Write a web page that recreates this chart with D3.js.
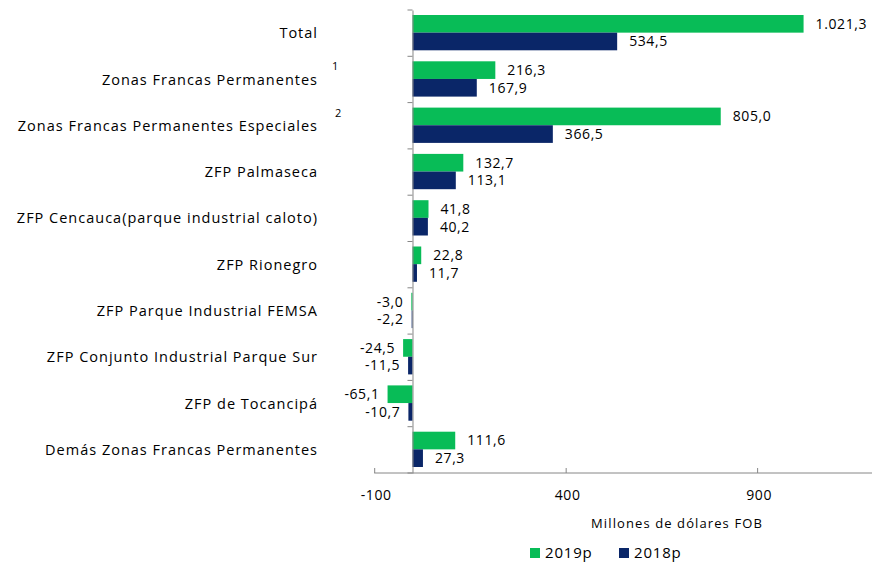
<!DOCTYPE html>
<html lang="en">
<head>
  <meta charset="UTF-8">
  <title>Zonas Francas Permanentes</title>
  <style>
    body { margin: 0; background: #fff; }
    svg text { font-family: "Open Sans", Arial, sans-serif; fill: #000; }
  </style>
</head>
<body>
  <svg id="chart" width="875" height="567"></svg>
  <script src="https://d3js.org/d3.v7.min.js"></script>
  <script>
    const categories = [
      "Total",
      "Zonas Francas Permanentes",
      "Zonas Francas Permanentes Especiales",
      "ZFP Palmaseca",
      "ZFP Cencauca(parque industrial caloto)",
      "ZFP Rionegro",
      "ZFP Parque Industrial FEMSA",
      "ZFP Conjunto Industrial Parque Sur",
      "ZFP de Tocancipá",
      "Demás Zonas Francas Permanentes"
    ];
    const notes = ["", "1", "2", "", "", "", "", "", "", ""];
    const values2019 = [1021.3, 216.3, 805.0, 132.7, 41.8, 22.8, -3.0, -24.5, -65.1, 111.6];
    const values2018 = [534.5, 167.9, 366.5, 113.1, 40.2, 11.7, -2.2, -11.5, -10.7, 27.3];
    const xTicks = [-100, 400, 900];
    const series = [
      { key: "2019p", values: values2019, color: "#08bc57" },
      { key: "2018p", values: values2018, color: "#0a2668" }
    ];

    const locale = d3.formatLocale({ decimal: ",", thousands: ".", grouping: [3], currency: ["", ""], minus: "-" });
    const fmt = locale.format(",.1f");

    const svg = d3.select("#chart");
    const plotLeft = 374.2, plotRight = 872;
    const plotTop = 10, plotBottom = 473;

    const x = d3.scaleLinear().domain([-100, 1200]).range([plotLeft, plotRight]);
    const y = d3.scaleBand().domain(categories).range([plotTop, plotBottom]);
    const inner = d3.scaleBand().domain(series.map(s => s.key)).range([5, y.bandwidth() - 6]);

    // bars
    series.forEach(s => {
      svg.append("g").selectAll("rect")
        .data(categories)
        .join("rect")
        .attr("x", (c, i) => x(Math.min(0, s.values[i])))
        .attr("y", c => y(c) + inner(s.key))
        .attr("width", (c, i) => Math.abs(x(s.values[i]) - x(0)))
        .attr("height", inner.bandwidth())
        .attr("fill", s.color);

      svg.append("g").selectAll("text")
        .data(categories)
        .join("text")
        .attr("x", (c, i) => s.values[i] >= 0 ? x(s.values[i]) + 12 : x(s.values[i]) - 8)
        .attr("y", c => y(c) + inner(s.key) + inner.bandwidth() / 2)
        .attr("dy", "0.35em")
        .attr("text-anchor", (c, i) => s.values[i] >= 0 ? "start" : "end")
        .attr("font-size", 14)
        .attr("letter-spacing", 0.6)
        .text((c, i) => fmt(s.values[i]));
    });

    // category axis
    const yAxis = svg.append("g")
      .attr("transform", `translate(${x(0)},0)`)
      .call(d3.axisLeft(y).tickSize(0).tickFormat(""));
    yAxis.select(".domain").attr("stroke", "#868686");
    yAxis.selectAll(".bound")
      .data(d3.range(categories.length + 1))
      .join("line")
      .attr("x1", -5).attr("x2", 0)
      .attr("y1", i => plotTop + i * y.step())
      .attr("y2", i => plotTop + i * y.step())
      .attr("stroke", "#868686");

    svg.append("g").selectAll("text")
      .data(categories)
      .join("text")
      .attr("x", 318)
      .attr("y", c => y(c) + y.bandwidth() / 2)
      .attr("dy", "0.35em")
      .attr("text-anchor", "end")
      .attr("font-size", 14.5)
      .attr("letter-spacing", 1)
      .text(c => c);

    svg.append("g").selectAll("text")
      .data(categories.filter((c, i) => notes[i]))
      .join("text")
      .attr("x", (c, i) => 332 + i * 3)
      .attr("y", c => y(c) + y.bandwidth() / 2 - 9)
      .attr("font-size", 11)
      .text(c => notes[categories.indexOf(c)]);

    // value axis
    const xAxis = svg.append("g")
      .attr("transform", `translate(0,${plotBottom})`)
      .call(d3.axisTop(x).tickValues(xTicks).tickSize(5).tickFormat(""));
    xAxis.select(".domain").attr("stroke", "#868686").attr("d", `M${plotLeft},0H${plotRight}`);
    xAxis.selectAll(".tick line").attr("stroke", "#868686");

    svg.append("g").selectAll("text")
      .data(xTicks)
      .join("text")
      .attr("x", d => x(d) + 2)
      .attr("y", plotBottom + 22)
      .attr("dy", "0.35em")
      .attr("text-anchor", "middle")
      .attr("font-size", 14)
      .attr("letter-spacing", 0.6)
      .text(d => d);

    svg.append("text")
      .attr("x", 677)
      .attr("y", 523)
      .attr("dy", "0.35em")
      .attr("text-anchor", "middle")
      .attr("font-size", 13)
      .attr("letter-spacing", 1.1)
      .text("Millones de dólares FOB");

    // legend
    const legend = svg.append("g").selectAll("g")
      .data(series)
      .join("g")
      .attr("transform", (s, i) => `translate(${530 + i * 89},553)`);
    legend.append("rect")
      .attr("x", 0).attr("y", -5)
      .attr("width", 10).attr("height", 10)
      .attr("fill", s => s.color);
    legend.append("text")
      .attr("x", 15).attr("dy", "0.35em")
      .attr("font-size", 15)
      .attr("letter-spacing", 0.8)
      .text(s => s.key);
  </script>
</body>
</html>
